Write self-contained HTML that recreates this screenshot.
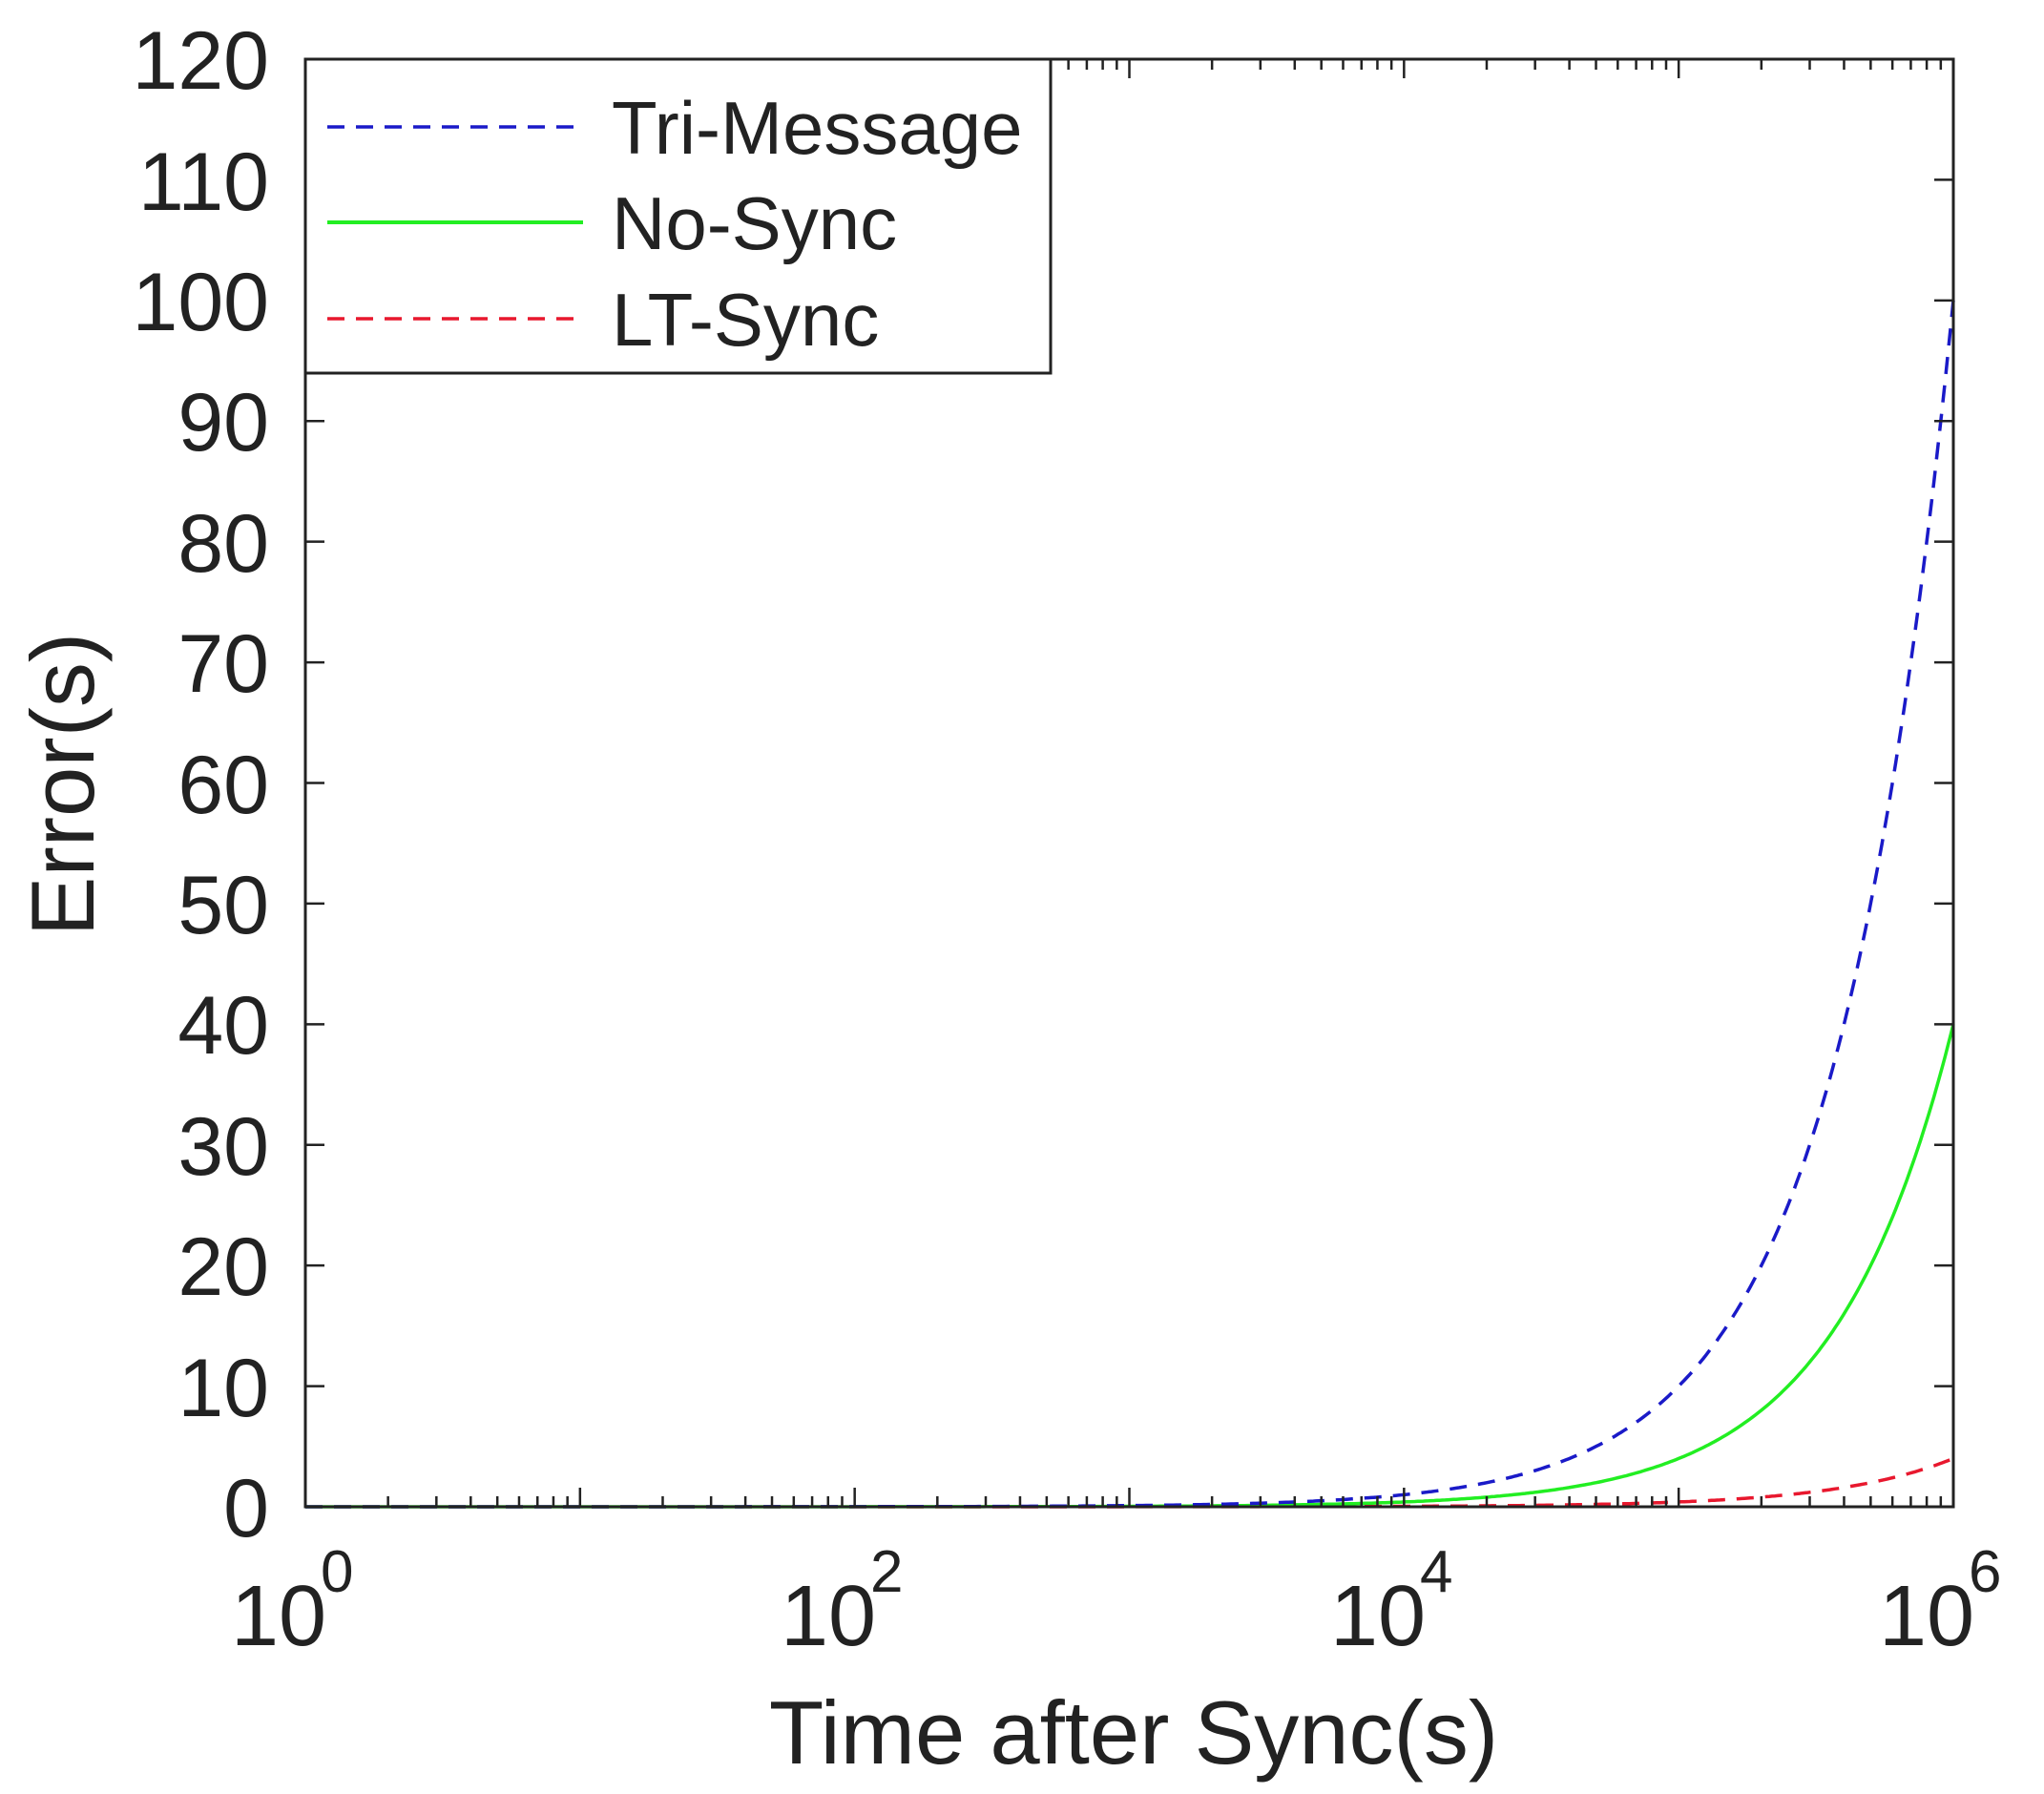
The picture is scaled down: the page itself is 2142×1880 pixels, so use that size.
<!DOCTYPE html>
<html><head><meta charset="utf-8"><style>
html,body{margin:0;padding:0;background:#fff;}
svg{display:block;}
text{font-family:"Liberation Sans",Arial,sans-serif;fill:#222;}
</style></head><body>
<svg id="s" width="2142" height="1880" viewBox="0 0 2142 1880" xmlns="http://www.w3.org/2000/svg">
<rect width="2142" height="1880" fill="#fff"/>
<g id="curves"></g>
<g id="ticks" stroke="#222" stroke-width="2.5"></g>
<rect x="320" y="62" width="1727" height="1517" fill="none" stroke="#222" stroke-width="3"/>
<g font-size="86" text-anchor="end">
<text x="282" y="1610">0</text>
<text x="282" y="1484">10</text>
<text x="282" y="1357">20</text>
<text x="282" y="1231">30</text>
<text x="282" y="1104">40</text>
<text x="282" y="978">50</text>
<text x="282" y="852">60</text>
<text x="282" y="725">70</text>
<text x="282" y="599">80</text>
<text x="282" y="472">90</text>
<text x="282" y="346">100</text>
<text x="282" y="220">110</text>
<text x="282" y="93">120</text>
</g>
<g font-size="90">
<text x="292" y="1724" text-anchor="middle">10</text><text x="336" y="1668" font-size="62">0</text>
<text x="868" y="1724" text-anchor="middle">10</text><text x="912" y="1668" font-size="62">2</text>
<text x="1444" y="1724" text-anchor="middle">10</text><text x="1488" y="1668" font-size="62">4</text>
<text x="2019" y="1724" text-anchor="middle">10</text><text x="2063" y="1668" font-size="62">6</text>
</g>
<text x="1188" y="1848" font-size="94" text-anchor="middle">Time after Sync(s)</text>
<text transform="translate(98,822) rotate(-90)" font-size="94" text-anchor="middle">Error(s)</text>
<rect x="320" y="62" width="781" height="329" fill="#fff" stroke="#222" stroke-width="3"/>
<line x1="343" y1="133" x2="611" y2="133" stroke="#1a1ac8" stroke-width="3.5" stroke-dasharray="18,12"/>
<line x1="343" y1="233" x2="611" y2="233" stroke="#22ee22" stroke-width="4"/>
<line x1="343" y1="334" x2="611" y2="334" stroke="#e8182e" stroke-width="3.5" stroke-dasharray="18,12"/>
<g font-size="78">
<text x="641" y="161">Tri-Message</text>
<text x="641" y="261">No-Sync</text>
<text x="641" y="362">LT-Sync</text>
</g>
</svg>
<script>
var L=320,R=2047,T=62,B=1579;
function X(lg){return L+(R-L)*lg/6;}
function Y(v){return B-(B-T)*v/120;}
var t=document.getElementById('ticks'),h='';
for(var i=0;i<=12;i++){var y=Y(i*10);h+='<line x1="'+L+'" y1="'+y+'" x2="'+(L+20)+'" y2="'+y+'"/><line x1="'+R+'" y1="'+y+'" x2="'+(R-20)+'" y2="'+y+'"/>';}
for(var d=0;d<6;d++){for(var m=1;m<10;m++){var x=X(d+Math.log10(m)),len=(m==1?20:11);
h+='<line x1="'+x+'" y1="'+B+'" x2="'+x+'" y2="'+(B-len)+'"/><line x1="'+x+'" y1="'+T+'" x2="'+x+'" y2="'+(T+len)+'"/>';}}
t.innerHTML=h;
var c=document.getElementById('curves'),s='';
function series(k,col,dash,w){var p=[];for(var i=0;i<=600;i++){var lg=i/100;var v=k*Math.pow(10,lg);p.push(X(lg).toFixed(1)+','+Y(v).toFixed(1));}
s+='<polyline fill="none" stroke="'+col+'" stroke-width="'+w+'" '+(dash?'stroke-dasharray="'+dash+'"':'')+' points="'+p.join(' ')+'"/>';}
series(4e-6,'#e8182e','18,12',3.5);
series(4e-5,'#22ee22','',3.5);
series(1e-4,'#1a1ac8','18,12',3.5);
c.innerHTML=s;
</script>
</body></html>
